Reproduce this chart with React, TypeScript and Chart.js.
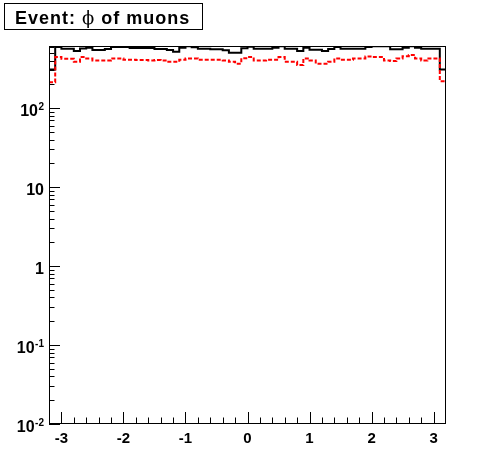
import React, { useEffect, useRef } from "react";
import { Chart, registerables } from "chart.js";

Chart.register(...registerables);

// phi range and binning (ROOT histogram, 64 bins)
const PHI_MIN = -3.2;
const PHI_MAX = 3.2;
const BIN_WIDTH = 0.1;

// all muons (black, solid)
const allMuons = [
  309, 594, 566, 566, 528, 570, 583, 544, 544, 561,
  594, 594, 594, 577, 577, 577, 577, 561, 561, 544,
  518, 583, 606, 588, 566, 566, 555, 555, 539, 503,
  503, 575, 600, 566, 566, 566, 583, 606, 566, 566,
  528, 583, 550, 550, 528, 561, 594, 566, 566, 566,
  566, 594, 606, 606, 606, 555, 555, 583, 606, 583,
  566, 566, 566, 309,
];

// selected muons (red, dashed)
const selectedMuons = [
  213, 443, 422, 422, 387, 443, 426, 402, 402, 402,
  426, 426, 410, 410, 406, 406, 402, 406, 402, 387,
  387, 410, 426, 426, 410, 410, 410, 410, 402, 387,
  365, 428, 443, 402, 402, 410, 410, 443, 387, 387,
  351, 426, 402, 365, 365, 387, 426, 410, 410, 426,
  426, 452, 443, 443, 402, 394, 426, 455, 470, 426,
  402, 426, 426, 219,
];

const xTickValues = [-3, -2, -1, 0, 1, 2, 3];
const xTickLabels = ["-3", "-2", "-1", "0", "1", "2", "3"];
const yDecades = [-2, -1, 0, 1, 2];
const yTickBases = ["10", "10", "1", "10", "10"];
const yTickExponents = ["-2", "-1", "", "", "2"];
const Y_MIN = 0.01;
const Y_MAX = 612;
const TITLE_PARTS = ["Event: ", "\u03D5", " of muons"];

function toSteps(values: number[]) {
  const pts = values.map((v, i) => ({ x: PHI_MIN + i * BIN_WIDTH, y: v }));
  pts.push({ x: PHI_MAX, y: values[values.length - 1] });
  return pts;
}

const SANS = '"Liberation Sans", Arial, Helvetica, sans-serif';

const rootFrame = {
  id: "rootFrame",
  afterDraw(chart: any) {
    const { ctx, chartArea: a, scales } = chart;
    const xs = scales.x;
    const ys = scales.y;
    ctx.save();
    ctx.strokeStyle = "#000";
    ctx.fillStyle = "#000";
    ctx.lineWidth = 1;
    const L = Math.round(a.left);
    const R = Math.round(a.right);
    const T = Math.round(a.top);
    const B = Math.round(a.bottom);
    ctx.strokeRect(L + 0.5, T + 0.5, R - L - 1, B - T - 1);

    // x ticks (inward)
    ctx.beginPath();
    for (let k = -15; k <= 15; k++) {
      const v = k * 0.2;
      const px = Math.round(xs.getPixelForValue(v)) + 0.5;
      const len = k % 5 === 0 ? 11 : 5.5;
      ctx.moveTo(px, B - 1);
      ctx.lineTo(px, B - 1 - len);
    }
    // y ticks (inward)
    for (const d of yDecades) {
      for (let m = 1; m <= 9; m++) {
        const v = m * Math.pow(10, d);
        if (v > Y_MAX) break;
        const py = Math.round(ys.getPixelForValue(v)) + 0.5;
        const len = m === 1 ? 11 : 5.5;
        ctx.moveTo(L, py);
        ctx.lineTo(L + len, py);
      }
    }
    ctx.stroke();

    // x labels
    ctx.font = `bold 15px ${SANS}`;
    ctx.textAlign = "center";
    ctx.textBaseline = "alphabetic";
    xTickValues.forEach((v, i) => {
      ctx.fillText(xTickLabels[i], xs.getPixelForValue(v), 442.5);
    });

    // y labels with exponents
    const rightX = 44;
    yDecades.forEach((d, i) => {
      const py = ys.getPixelForValue(Math.pow(10, d));
      const base = yTickBases[i];
      const exp = yTickExponents[i];
      ctx.textAlign = "left";
      ctx.font = `bold 10px ${SANS}`;
      const ew = exp ? ctx.measureText(exp).width : 0;
      ctx.font = `bold 16px ${SANS}`;
      const bw = ctx.measureText(base).width;
      const x0 = rightX - ew - bw - (exp ? 0.5 : 0);
      ctx.fillText(base, x0, py + 7.5);
      if (exp) {
        ctx.font = `bold 10px ${SANS}`;
        ctx.fillText(exp, x0 + bw + 0.5, py + 1.5);
      }
    });

    // title box
    ctx.fillStyle = "#fff";
    ctx.fillRect(4.5, 3.5, 198, 26);
    ctx.strokeRect(4.5, 3.5, 198, 26);
    ctx.fillStyle = "#000";
    ctx.textAlign = "left";
    let tx = 15;
    const fonts = [`bold 18px ${SANS}`, `18px "DejaVu Serif", serif`, `bold 18px ${SANS}`];
    (ctx as any).letterSpacing = "1px";
    TITLE_PARTS.forEach((part, i) => {
      ctx.font = fonts[i];
      ctx.fillText(part, tx, 23.5);
      tx += ctx.measureText(part).width;
    });
    (ctx as any).letterSpacing = "0px";
    ctx.restore();
  },
};

export default function App() {
  const ref = useRef<HTMLCanvasElement>(null);
  useEffect(() => {
    const canvas = ref.current;
    if (!canvas) return;
    const chart = new Chart(canvas, {
      type: "line",
      data: {
        datasets: [
          {
            label: "selected",
            data: toSteps(selectedMuons),
            borderColor: "#ff0000",
            borderWidth: 2,
            borderDash: [4, 2],
            stepped: true,
            pointRadius: 0,
            fill: false,
          },
          {
            label: "all",
            data: toSteps(allMuons),
            borderColor: "#000000",
            borderWidth: 2,
            stepped: true,
            pointRadius: 0,
            fill: false,
          },
        ],
      },
      options: {
        animation: false,
        responsive: false,
        devicePixelRatio: 1,
        layout: { padding: { left: 0, right: 50, top: 46, bottom: 0 } },
        plugins: {
          legend: { display: false },
          tooltip: { enabled: false },
          title: { display: false },
        },
        scales: {
          x: {
            type: "linear",
            min: PHI_MIN,
            max: PHI_MAX,
            grid: { display: false },
            border: { display: false },
            ticks: { display: false },
            afterFit: (s: any) => {
              s.height = 48;
            },
          },
          y: {
            type: "logarithmic",
            min: Y_MIN,
            max: Y_MAX,
            grid: { display: false },
            border: { display: false },
            ticks: { display: false },
            afterFit: (s: any) => {
              s.width = 49;
            },
          },
        },
      },
      plugins: [rootFrame],
    } as any);
    return () => chart.destroy();
  }, []);
  return (
    <div style={{ position: "absolute", left: 0, top: 0, width: 496, height: 472, background: "#fff" }}>
      <canvas ref={ref} width={496} height={472} style={{ display: "block" }} />
    </div>
  );
}
